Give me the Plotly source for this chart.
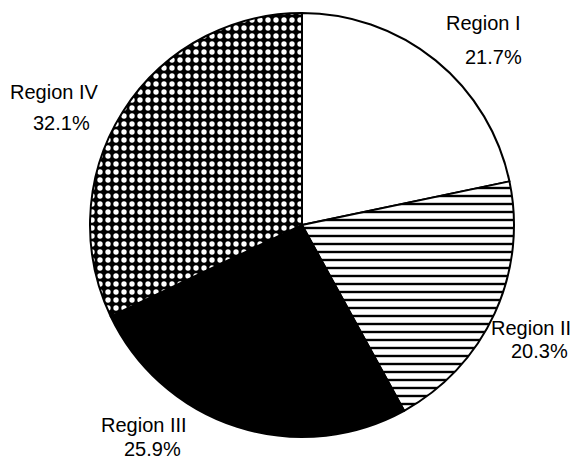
import plotly.graph_objects as go

# Data
regions = ["Region I", "Region II", "Region III", "Region IV"]
shares = [21.7, 20.3, 25.9, 32.1]
pct_labels = ["21.7%", "20.3%", "25.9%", "32.1%"]

# page body has an 8px margin, so the figure is shrunk and shifted to compensate
OFF = 8
W, H = 580 - OFF, 461 - OFF


def px_x(px):
    return (px - OFF) / W


def px_y(py):
    return 1 - (py - OFF) / H


cx, cy, r = 302, 225, 212

fig = go.Figure()

fig.add_trace(go.Pie(
    labels=regions,
    values=shares,
    sort=False,
    direction="clockwise",
    rotation=0,
    textinfo="none",
    hoverinfo="label+percent",
    showlegend=False,
    domain=dict(x=[px_x(cx - r), px_x(cx + r)],
                y=[px_y(cy + r), px_y(cy - r)]),
    marker=dict(
        colors=["white", "white", "black", "black"],
        line=dict(color="black", width=2),
        pattern=dict(
            shape=["", "-", "", "."],
            fgcolor=["black", "black", "black", "white"],
            bgcolor=["white", "white", "black", "black"],
            size=[8, 8, 8, 8],
            solidity=[0.3, 0.3, 0.3, 0.35],
            fillmode="replace",
        ),
    ),
))

label_pos = [
    ((483, 23), (493, 57)),
    ((531, 328), (539, 351)),
    ((144, 425), (152, 449)),
    ((54, 92), (61, 123)),
]

for name, pct, (p1, p2) in zip(regions, pct_labels, label_pos):
    for txt, (px, py) in ((name, p1), (pct, p2)):
        fig.add_annotation(
            text=txt, x=px_x(px), y=px_y(py), xref="paper", yref="paper",
            xanchor="center", yanchor="middle", showarrow=False,
            font=dict(family="Liberation Sans, Arial, sans-serif", size=20, color="black"),
        )

fig.update_layout(
    width=W,
    height=H,
    margin=dict(l=0, r=0, t=0, b=0),
    paper_bgcolor="white",
    plot_bgcolor="white",
)

fig.write_html("out.html")
